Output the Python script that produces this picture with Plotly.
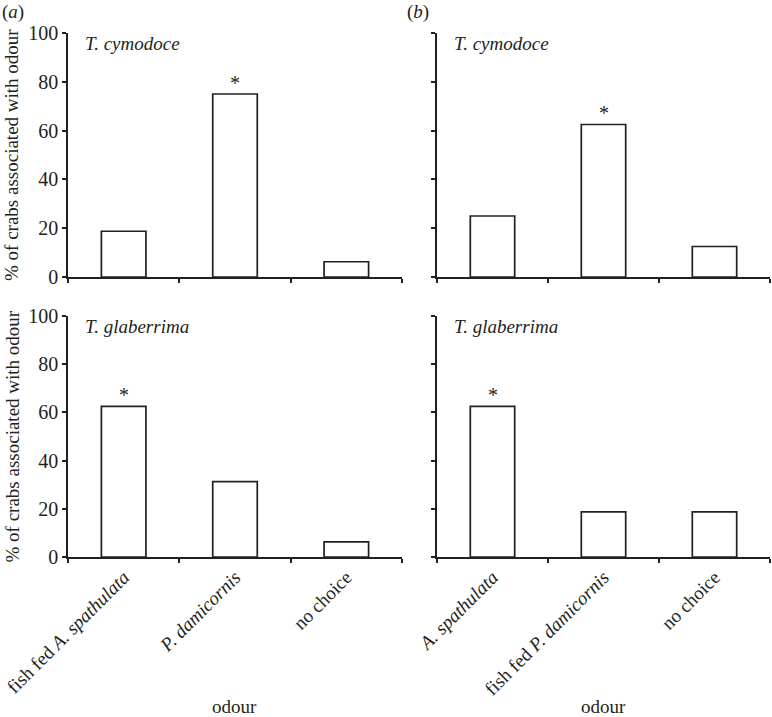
import plotly.graph_objects as go
from plotly.subplots import make_subplots

cats_a = ["fish fed <i>A. spathulata</i>", "<i>P. damicornis</i>", "no choice"]
cats_b = ["<i>A. spathulata</i>", "fish fed <i>P. damicornis</i>", "no choice"]
cymodoce_a = [18.75, 75, 6.25]
cymodoce_b = [25, 62.5, 12.5]
glaberrima_a = [62.5, 31.25, 6.25]
glaberrima_b = [62.5, 18.75, 18.75]
signif_top_a = 1
signif_top_b = 1
signif_bot_a = 0
signif_bot_b = 0
yticks = [0, 20, 40, 60, 80, 100]

W, H = 772, 717
FONT = "Liberation Serif, Times New Roman, Times, serif"
COL = "#231f20"

fig = make_subplots(rows=2, cols=2)

def px_x(p):
    return p / W

def px_y(p):
    return 1 - p / H

xdom = {1: [px_x(68), px_x(402)], 2: [px_x(437), px_x(770)]}
ydom = {1: [px_y(277), px_y(33)], 2: [px_y(557), px_y(316)]}

panels = [
    (1, 1, cats_a, cymodoce_a, signif_top_a, "T. cymodoce"),
    (1, 2, cats_b, cymodoce_b, signif_top_b, "T. cymodoce"),
    (2, 1, cats_a, glaberrima_a, signif_bot_a, "T. glaberrima"),
    (2, 2, cats_b, glaberrima_b, signif_bot_b, "T. glaberrima"),
]

for r, c, cats, vals, sig, species in panels:
    fig.add_trace(go.Bar(x=cats, y=vals, width=0.4,
                         marker=dict(color="white", line=dict(color=COL, width=1.7)),
                         showlegend=False, hoverinfo="skip"), row=r, col=c)
    idx = (r - 1) * 2 + c
    xa = "x" if idx == 1 else f"x{idx}"
    ya = "y" if idx == 1 else f"y{idx}"
    fig.add_annotation(x=cats[sig], y=vals[sig], xref=xa, yref=ya, text="*",
                       showarrow=False, yanchor="bottom", yshift=-2,
                       font=dict(family=FONT, size=20, color=COL))
    fig.add_annotation(x=0.045, y=1.0, xref=f"{xa} domain", yref=f"{ya} domain",
                       text=f"<i>{species}</i>", showarrow=False, xanchor="left", yanchor="top",
                       yshift=2,
                       font=dict(family=FONT, size=19, color=COL))
    fig.update_xaxes(domain=xdom[c], type="category", range=[-0.5, 2.5],
                     tickson="boundaries", ticks="outside", ticklen=4, tickwidth=1.5,
                     tickcolor=COL, showline=True, linecolor=COL, linewidth=1.7,
                     showgrid=False, zeroline=False, tickangle=-45, automargin=False,
                     showticklabels=(r == 2),
                     tickfont=dict(family=FONT, size=19, color=COL),
                     row=r, col=c)
    fig.update_yaxes(domain=ydom[r], range=[0, 100], tickvals=yticks,
                     ticks="outside", ticklen=4, tickwidth=1.5, tickcolor=COL,
                     showline=True, linecolor=COL, linewidth=1.7,
                     showgrid=False, zeroline=False, automargin=False,
                     showticklabels=(c == 1),
                     tickfont=dict(family=FONT, size=20, color=COL),
                     row=r, col=c)

# y-axis titles
for r in (1, 2):
    yc = (ydom[r][0] + ydom[r][1]) / 2
    fig.add_annotation(x=px_x(12), y=yc, xref="paper", yref="paper",
                       text="% of crabs associated with odour", textangle=-90,
                       showarrow=False, xanchor="center", yanchor="middle",
                       font=dict(family=FONT, size=19, color=COL))

# x-axis titles
for c in (1, 2):
    xc = (xdom[c][0] + xdom[c][1]) / 2
    fig.add_annotation(x=xc, y=px_y(706), xref="paper", yref="paper",
                       text="odour", showarrow=False, xanchor="center", yanchor="middle",
                       font=dict(family=FONT, size=19, color=COL))

# panel labels
fig.add_annotation(x=px_x(0), y=px_y(12), xref="paper", yref="paper", text="(<i>a</i>)",
                   showarrow=False, xanchor="left", yanchor="middle",
                   font=dict(family=FONT, size=19, color=COL))
fig.add_annotation(x=px_x(405), y=px_y(12), xref="paper", yref="paper", text="(<i>b</i>)",
                   showarrow=False, xanchor="left", yanchor="middle",
                   font=dict(family=FONT, size=19, color=COL))

fig.update_layout(template="none", width=W, height=H, margin=dict(l=0, r=0, t=0, b=0),
                  plot_bgcolor="white", paper_bgcolor="white",
                  font=dict(family=FONT, size=19, color=COL), bargap=0.6)

fig.write_html("out.html", config={"displayModeBar": False},
               post_script="document.body.style.margin='0px';document.body.style.overflow='hidden';")
